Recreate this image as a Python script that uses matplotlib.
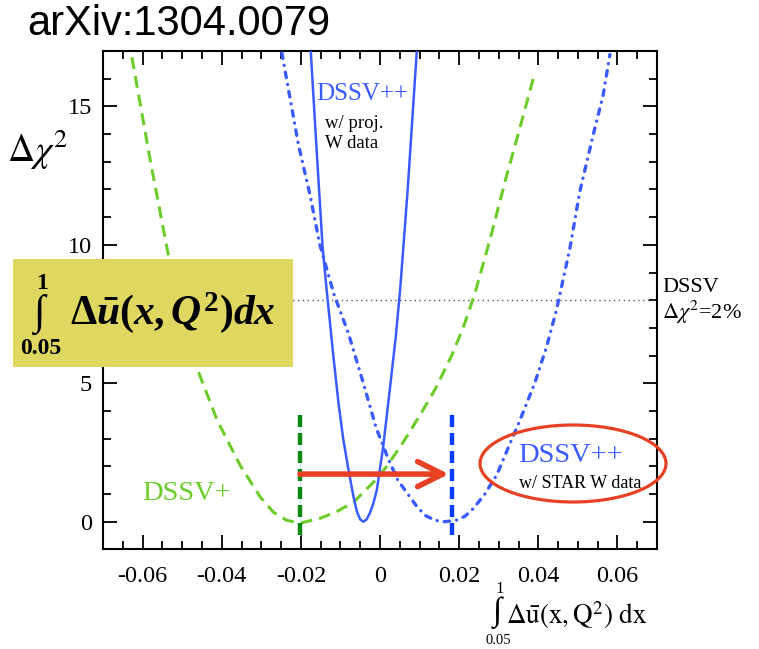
import matplotlib
matplotlib.use("Agg")
import matplotlib.pyplot as plt
from matplotlib.patches import Rectangle, Ellipse

# ---------------- data ----------------
dssv_plus_x = [-0.0627, -0.0580, -0.0535, -0.0495, -0.0459, -0.0412, -0.0354, -0.0303,
               -0.0270, -0.0236, -0.0202, -0.0152, -0.0110, -0.0067, -0.0008, 0.0017,
               0.0060, 0.0101, 0.0140, 0.0181, 0.0210, 0.0240, 0.0280, 0.0320,
               0.0355, 0.0391]
dssv_plus_y = [16.77, 13.0, 9.64, 7.4, 5.42, 3.68, 2.05, 0.90,
               0.35, 0.05, -0.05, 0.12, 0.36, 0.70, 1.55, 2.0,
               2.9, 3.85, 4.8, 6.0, 7.0, 8.25, 10.3, 12.5,
               14.3, 16.2]

proj_x = [-0.0175, -0.0160, -0.0145, -0.0135, -0.0118, -0.0105, -0.0093, -0.0080,
          -0.0067, -0.0058, -0.0050, -0.0042, -0.0034, -0.0026, -0.0017, -0.0008,
          0.0008, 0.0025, 0.0040, 0.0051, 0.0070, 0.0093]
proj_y = [17.0, 13.4, 9.9, 8.4, 6.0, 4.3, 3.0, 1.9,
          0.9, 0.35, 0.08, 0.0, 0.08, 0.3, 0.65, 1.15,
          2.7, 4.8, 6.7, 8.4, 12.0, 17.0]

star_x = [-0.0248, -0.0206, -0.0177, -0.0152, -0.0116, -0.0080, -0.0042, -0.0010,
          0.0020, 0.0045, 0.0093, 0.0115, 0.0139, 0.0165, 0.0194, 0.0215, 0.0236,
          0.0265, 0.0295, 0.0354, 0.0391, 0.0421, 0.0446, 0.0480, 0.0505, 0.0539,
          0.0564, 0.0581]
star_y = [16.93, 13.61, 11.81, 10.0, 8.2, 6.81, 5.0, 3.4,
          2.3, 1.5, 0.55, 0.22, 0.05, 0.0, 0.06, 0.2, 0.48,
          1.0, 1.69, 3.68, 5.0, 6.32, 7.65, 9.88, 11.93, 13.98,
          15.42, 16.87]

dssv_threshold = 8.0
min_dssv_plus = -0.0202
min_star = 0.0181
vline_range = (-0.48, 3.93)
arrow_y = 1.72
arrow_end = 0.0174

x_ticks = [-0.06, -0.04, -0.02, 0.0, 0.02, 0.04, 0.06]
x_ticklabels = ["-0.06", "-0.04", "-0.02", "0", "0.02", "0.04", "0.06"]
y_ticks = [0, 5, 10, 15]
y_ticklabels = ["0", "5", "10", "15"]

# ---------------- style ----------------
plt.rcParams["font.family"] = ["Liberation Serif", "DejaVu Serif"]
plt.rcParams["mathtext.fontset"] = "custom"
plt.rcParams["mathtext.rm"] = "Liberation Serif:bold"
plt.rcParams["mathtext.it"] = "Liberation Serif:italic:bold"
plt.rcParams["mathtext.bf"] = "Liberation Serif:bold"

GREEN = "#6ccc2a"
BLUE = "#3a5bff"
DGREEN = "#0b8a12"
VBLUE = "#0a3cff"
RED = "#e84022"
BOX = "#dfd75f"

W, H = 759, 649
fig = plt.figure(figsize=(W / 100, H / 100), dpi=100)


def fx(px):
    return px / W


def fy(py):
    return 1 - py / H


ax = fig.add_axes([fx(103), fy(549.4), (657 - 103) / W, (549.4 - 51) / H])
ax.set_xlim(-0.07, 0.07)
ax.set_ylim(-1, 17)

# curves
ax.plot(dssv_plus_x, dssv_plus_y, color=GREEN, lw=2.2,
        linestyle=(0, (3.9, 2.3)), zorder=3)
ax.plot(proj_x, proj_y, color=BLUE, lw=1.8, zorder=3)
ln, = ax.plot(star_x, star_y, color=BLUE, lw=2.4,
              linestyle=(0, (1.67, 2.08, 0.04, 2.08)), zorder=3)
ln.set_dash_capstyle("round")

# DSSV threshold dotted line
ax.axhline(dssv_threshold, color="#555555", lw=1.0, linestyle=(0, (1, 2.5)), zorder=2)

# vertical dashed markers
for xv, c in [(min_dssv_plus, DGREEN), (min_star, VBLUE)]:
    ax.plot([xv, xv], list(vline_range), color="#a8e6f0", lw=0.6, zorder=4)
    ax.plot([xv, xv], list(vline_range), color=c, lw=3.2,
            linestyle=(0, (2.7, 1.35)), zorder=5)

# red arrow
ax.annotate("", xy=(arrow_end, arrow_y), xytext=(min_dssv_plus, arrow_y),
            arrowprops=dict(arrowstyle="->,head_length=0.9,head_width=0.45",
                            lw=4, color=RED, shrinkA=0, shrinkB=0,
                            mutation_scale=20),
            zorder=6)

# ticks
ax.set_xticks(x_ticks)
ax.set_xticklabels(x_ticklabels)
ax.set_yticks(y_ticks)
ax.set_yticklabels(y_ticklabels)
ax.set_xticks([i * 0.005 for i in range(-13, 14)], minor=True)
ax.set_yticks(list(range(-1, 18)), minor=True)
ax.tick_params(which="both", direction="in", top=True, right=True, width=1.3,
               labelsize=17.5, colors="black")
ax.tick_params(axis="x", which="major", length=10, pad=12)
ax.tick_params(axis="y", which="major", length=10, pad=8)
ax.tick_params(which="minor", length=6)
for s in ax.spines.values():
    s.set_linewidth(1.5)

# texts inside plot
fig.text(fx(316), fy(94), "DSSV++", color=BLUE, fontsize=18, va="center", ha="left")
fig.text(fx(325), fy(123), "w/ proj.", color="black", fontsize=13.5, va="center", ha="left")
fig.text(fx(325), fy(143), "W data", color="black", fontsize=13.5, va="center", ha="left")
fig.text(fx(142), fy(494), "DSSV+", color=GREEN, fontsize=20.5, va="center", ha="left")
fig.text(fx(518), fy(456), "DSSV++", color=BLUE, fontsize=20.5, va="center", ha="left")
fig.text(fx(519), fy(484), "w/ STAR W data", color="black", fontsize=13, va="center", ha="left")

# right side label
fig.text(fx(662), fy(287), "DSSV", fontsize=16, va="center", ha="left")
fig.text(fx(662), fy(312), r"$\Delta\chi^{2}$=2%", fontsize=16, va="center", ha="left",
         math_fontfamily="stix")

# y label
fig.text(fx(7), fy(150), r"$\Delta\chi^{2}$", fontsize=27, va="center", ha="left",
         math_fontfamily="stix")

# x label
fig.text(fx(497), fy(613), "\u222b", fontsize=24, va="center", ha="center")
fig.text(fx(500), fy(589), "1", fontsize=12, va="center", ha="center")
fig.text(fx(498), fy(641), "0.05", fontsize=10.5, va="center", ha="center")
fig.text(fx(506), fy(615), r"$\Delta\bar{\mathrm{u}}(\mathrm{x},\mathrm{Q}^{2})\ \mathrm{dx}$",
         fontsize=19.5, va="center", ha="left", math_fontfamily="stix")

# ellipse highlight
fig.patches.append(Ellipse((fx(573), fy(463.5)), 186 / W, 77 / H, transform=fig.transFigure,
                           fill=False, edgecolor=RED, lw=2.3, zorder=6))

# yellow box with formula
fig.patches.append(Rectangle((fx(13), fy(367)), (293 - 13) / W, (367 - 259) / H,
                             transform=fig.transFigure, facecolor=BOX, edgecolor="none",
                             zorder=7))
fig.text(fx(39), fy(314), "\u222b", fontsize=30, fontweight="bold", va="center",
         ha="center", zorder=8)
fig.text(fx(42), fy(283), "1", fontsize=17, fontweight="bold", va="center", ha="center", zorder=8)
fig.text(fx(41), fy(348), "0.05", fontsize=17, fontweight="bold", va="center", ha="center", zorder=8)
fig.text(fx(70), fy(313), r"$\Delta\bar{u}(x,Q^{2})dx$", fontsize=30, va="center",
         ha="left", math_fontfamily="custom", zorder=8)

# title
fig.text(fx(27), fy(24), "arXiv:1304.0079", fontsize=30, va="center", ha="left",
         family=["Liberation Sans", "DejaVu Sans"])

fig.savefig("out.png", dpi=100)
